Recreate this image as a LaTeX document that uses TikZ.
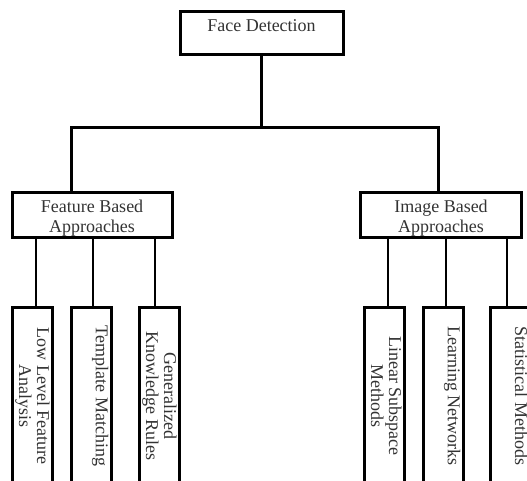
\documentclass[tikz,border=0pt]{standalone}
\usepackage{fontspec}
\setmainfont{Liberation Serif}

\begin{document}
\begin{tikzpicture}[x=1pt,y=-1pt,
  box/.style={draw,line width=3pt,align=center,inner xsep=0pt,text=black!80,font=\fontsize{18}{20}\selectfont},
  leaf/.style={box,rotate=-90,minimum width=178pt,inner ysep=1.5pt,font=\fontsize{18}{18}\selectfont},
  oneline/.style={leaf,text height=14pt,text depth=23pt},
  twoline/.style={leaf,text height=32pt,text depth=5pt},
  trunk/.style={line width=3pt},
  twig/.style={line width=1.2pt}]
\useasboundingbox (0,0) rectangle (527,481);
\clip (0,0) rectangle (527,481);
\node[box,minimum width=163pt,text height=16pt,text depth=19pt,inner ysep=4pt] (fd) at (261.5,33.5) {Face Detection};
\node[box,minimum width=160pt,text height=37pt,text depth=3pt,inner ysep=2pt] (fb) at (92,215) {Feature Based\\Approaches};
\node[box,minimum width=161pt,text height=37pt,text depth=3pt,inner ysep=2pt] (ib) at (441,215) {Image Based\\Approaches};
\coordinate (jl) at (71,128);
\coordinate (jr) at (438,128);
\draw[trunk] (fd.south) -- (fd.south |- jl);
\draw[trunk] (fb.north -| jl) -- (jl) -- (jr) -- (ib.north -| jr);
\foreach \n/\p/\x/\d/\s/\t in {lf/fb/32.7/3.3/twoline/{Low Level Feature\\Analysis},tm/fb/91.3/1.7/oneline/{Template Matching},gk/fb/159.7/-4.7/twoline/{Generalized\\Knowledge Rules},ls/ib/384.5/3.5/twoline/{Linear Subspace\\Methods},ln/ib/443.3/2.7/oneline/{Learning Networks},sm/ib/510.7/-3.7/oneline/{Statistical Methods}}
{
\node[\s] (\n) at (\x,396) {\t};
\draw[twig] ([xshift=\d pt]\n.west) -- ([xshift=\d pt]\n.west |- \p.south);
}
\end{tikzpicture}
\end{document}
